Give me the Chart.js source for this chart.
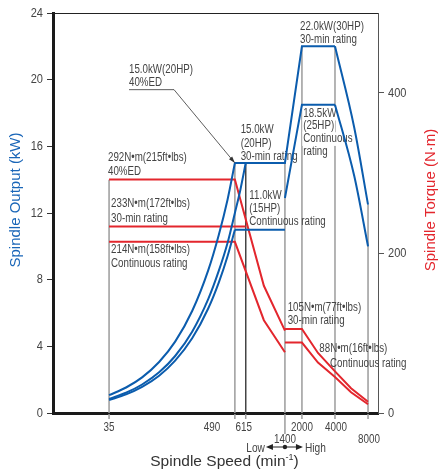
<!DOCTYPE html>
<html>
<head>
<meta charset="utf-8">
<script src="https://cdn.jsdelivr.net/npm/chart.js@4.4.1/dist/chart.umd.min.js"></script>
<style>
  html, body { margin: 0; padding: 0; background: #fff; }
</style>
</head>
<body>
<canvas id="grafica" width="440" height="475"></canvas>
<script>
// speed axis (min-1)
const speedTicks = [35, 490, 615, 1400, 2000, 4000, 8000];
const powerTicks = [0, 4, 8, 12, 16, 20, 24];
const torqueTicks = [0, 200, 400];

// spindle output (kW) - low gear, rising part
const riseSpeed = [35, 50, 70, 100, 140, 200, 280, 350, 420, 490];
const out40Rise = [1.07, 1.53, 2.14, 3.06, 4.28, 6.12, 8.56, 10.7, 12.8, 15.0];
const out30RiseSpeed = [35, 50, 70, 100, 140, 200, 280, 350, 420, 490, 550, 615];
const out30Rise = [0.85, 1.22, 1.71, 2.44, 3.42, 4.88, 6.83, 8.54, 10.2, 12.0, 13.4, 15.0];
const outContRise = [0.78, 1.12, 1.57, 2.24, 3.14, 4.48, 6.27, 7.84, 9.41, 11.0];
// spindle output (kW) - flat and high gear parts
const out30Speed = [490, 1400, 2000, 4000];
const out30 = [15.0, 15.0, 22.0, 22.0];
const outContSpeed = [490, 1400];
const outCont = [11.0, 11.0];
const outContHighSpeed = [1400, 2000, 4000];
const outContHigh = [12.9, 18.5, 18.5];
const fallSpeed = [4000, 6000, 8000];
const out30Fall = [22.0, 17.1, 12.5];
const outContFall = [18.5, 14.2, 10.0];

// spindle torque (N·m)
const trq40Speed = [35, 490, 900, 1400];
const trq40 = [292, 292, 159, 103];
const trq30LowSpeed = [35, 615];
const trq30Low = [233, 233];
const trqContLowSpeed = [35, 490, 900, 1400];
const trqContLow = [214, 214, 116, 76];
const trqHighSpeed = [1400, 2000, 2800, 4000, 5600, 8000];
const trq30High = [105, 105, 75, 52, 31, 14];
const trqContHigh = [88, 88, 63, 45, 26, 11];

// drop lines to the speed axis (top in kW)
const dropSpeeds = [35, 490, 615, 1400, 2000, 4000, 8000];
const dropTops = [14.0, 15.0, 15.0, 15.0, 22.0, 22.0, 12.5];

const AZUL = '#0b5cad';
const ROJO = '#e3262d';
const TEXTO = '#444';
const FUENTE = '"Liberation Sans", Arial, sans-serif';

// annotations: anchor [speed, kW], then line spacing in px
const notas = [
    { at: [53.2, 20.6], lh: 12.5, lines: ['15.0kW(20HP)', '40%ED'] },
    { at: [34.2, 15.3], lh: 14, lines: ['292N•m(215ft•lbs)', '40%ED'] },
    { at: [36.5, 12.55], lh: 15, lines: ['233N•m(172ft•lbs)', '30-min rating'] },
    { at: [36.5, 9.79], lh: 14, lines: ['214N•m(158ft•lbs)', 'Continuous rating'] },
    { at: [553, 16.98], lh: 13.5, lines: ['15.0kW', '(20HP)', '30-min rating'] },
    { at: [663, 13.02], lh: 13, lines: ['11.0kW', '(15HP)', 'Continuous rating'] },
    { at: [1919, 23.2], lh: 13, lines: ['22.0kW(30HP)', '30-min rating'] },
    { at: [2057, 17.99], lh: 12.7, lines: ['18.5kW', '(25HP)', 'Continuous', 'rating'], knockout: 3 },
    { at: [1483, 6.32], lh: 12.5, lines: ['105N•m(77ft•lbs)', '30-min rating'] },
    { at: [2878, 3.84], lh: 15, lines: ['88N•m(16ft•lbs)', 'Continuous rating'], indent: [0, 10.7] }
];

function pts(xs, ys) {
    return xs.map((v, i) => ({ x: v, y: ys[i] }));
}

function linea(data, color, eje, suave) {
    return {
        data, borderColor: color, borderWidth: 2, yAxisID: eje, order: 0,
        pointRadius: 0, fill: false, cubicInterpolationMode: suave ? 'monotone' : 'default'
    };
}

const datasets = [
    linea(pts(riseSpeed, out40Rise), AZUL, 'y', true),
    linea(pts(out30RiseSpeed, out30Rise), AZUL, 'y', true),
    linea(pts(riseSpeed, outContRise), AZUL, 'y', true),
    linea(pts(out30Speed, out30), AZUL, 'y'),
    linea(pts(outContSpeed, outCont), AZUL, 'y'),
    linea(pts(outContHighSpeed, outContHigh), AZUL, 'y'),
    linea(pts(fallSpeed, out30Fall), AZUL, 'y', true),
    linea(pts(fallSpeed, outContFall), AZUL, 'y', true),
    linea(pts(trq40Speed, trq40), ROJO, 'y2'),
    linea(pts(trq30LowSpeed, trq30Low), ROJO, 'y2'),
    linea(pts(trqContLowSpeed, trqContLow), ROJO, 'y2'),
    linea(pts(trqHighSpeed, trq30High), ROJO, 'y2'),
    linea(pts(trqHighSpeed, trqContHigh), ROJO, 'y2')
];

dropSpeeds.forEach((s, i) => {
    datasets.push({
        data: [{ x: s, y: dropTops[i] }, { x: s, y: 0 }],
        borderColor: s === 615 ? '#444' : '#9c9c9c',
        borderWidth: s === 615 ? 1 : 1.5,
        yAxisID: 'y', order: 1, pointRadius: 0, drop: true
    });
});

// condensed text: regular sans squeezed horizontally
function texto(ctx, t, x, y, size, k, align) {
    ctx.save();
    ctx.font = size + 'px ' + FUENTE;
    ctx.textBaseline = 'middle';
    const w = ctx.measureText(t).width * k;
    const x0 = align === 'center' ? x - w / 2 : align === 'right' ? x - w : x;
    ctx.translate(x0, y);
    ctx.scale(k, 1);
    ctx.textAlign = 'left';
    ctx.fillText(t, 0, 0);
    ctx.restore();
    return w;
}

function ancho(ctx, t, size, k) {
    ctx.save();
    ctx.font = size + 'px ' + FUENTE;
    const w = ctx.measureText(t).width * k;
    ctx.restore();
    return w;
}

function dibujarNotas(chart) {
    const { ctx } = chart;
    const x = chart.scales.x, y = chart.scales.y;
    ctx.save();
    notas.forEach(n => {
        const px = x.getPixelForValue(n.at[0]);
        const py = y.getPixelForValue(n.at[1]);
        n.lines.forEach((t, i) => {
            const lx = px + (n.indent ? n.indent[i] : 0);
            const ly = py + i * n.lh;
            if (n.knockout && i < n.knockout) {
                ctx.fillStyle = '#fff';
                ctx.fillRect(lx - 1, ly - n.lh / 2, ancho(ctx, t, 12.5, 0.78) + 2, n.lh + 1);
            }
            ctx.fillStyle = TEXTO;
            texto(ctx, t, lx, ly, 12.5, 0.78, 'left');
        });
    });

    // leader from the 40%ED label to the 490 min-1 corner
    const a = [x.getPixelForValue(53.2), y.getPixelForValue(19.4)];
    const b = [x.getPixelForValue(136.7), y.getPixelForValue(19.4)];
    const c = [x.getPixelForValue(490), y.getPixelForValue(15)];
    ctx.strokeStyle = '#333';
    ctx.lineWidth = 0.8;
    ctx.beginPath();
    ctx.moveTo(a[0], a[1]);
    ctx.lineTo(b[0], b[1]);
    ctx.lineTo(c[0], c[1]);
    ctx.stroke();
    const ang = Math.atan2(c[1] - b[1], c[0] - b[0]);
    ctx.fillStyle = '#333';
    ctx.beginPath();
    ctx.moveTo(c[0], c[1]);
    ctx.lineTo(c[0] - 7 * Math.cos(ang - 0.3), c[1] - 7 * Math.sin(ang - 0.3));
    ctx.lineTo(c[0] - 7 * Math.cos(ang + 0.3), c[1] - 7 * Math.sin(ang + 0.3));
    ctx.closePath();
    ctx.fill();
    ctx.restore();
}

function flecha(ctx, x0, y0, dir) {
    ctx.beginPath();
    ctx.moveTo(x0, y0);
    ctx.lineTo(x0 - dir * 7, y0 - 3);
    ctx.lineTo(x0 - dir * 7, y0 + 3);
    ctx.closePath();
    ctx.fill();
}

const anotar = {
    id: 'anotar',
    beforeDraw(chart) {
        chart.$notas = false;
    },
    beforeDatasetDraw(chart, args) {
        if (!chart.data.datasets[args.index].drop && !chart.$notas) {
            chart.$notas = true;
            dibujarNotas(chart);
        }
    },
    afterDraw(chart) {
        const { ctx, chartArea } = chart;
        const x = chart.scales.x, y = chart.scales.y, y2 = chart.scales.y2;
        ctx.save();

        // top frame line
        ctx.strokeStyle = '#222';
        ctx.lineWidth = 1;
        ctx.beginPath();
        ctx.moveTo(chartArea.left, chartArea.top + 0.5);
        ctx.lineTo(chartArea.right, chartArea.top + 0.5);
        ctx.stroke();

        // value labels of both vertical axes
        ctx.fillStyle = TEXTO;
        powerTicks.forEach(v => texto(ctx, String(v), chartArea.left - 10, y.getPixelForValue(v), 13, 0.85, 'right'));
        torqueTicks.forEach(v => texto(ctx, String(v), chartArea.right + 10, y2.getPixelForValue(v), 13, 0.85, 'left'));

        // speed ticks below the axis and their labels
        const fila = [0, 0, 0, 1, 0, 0, 1];
        const corr = [0, -23, -2, 0, 0, 1, 1];
        speedTicks.forEach((s, i) => {
            const px = x.getPixelForValue(s);
            ctx.strokeStyle = '#9c9c9c';
            ctx.lineWidth = 1.5;
            ctx.beginPath();
            ctx.moveTo(px, chartArea.bottom + 1);
            ctx.lineTo(px, chartArea.bottom + (s === 1400 ? 21 : 6));
            ctx.stroke();
            ctx.fillStyle = TEXTO;
            texto(ctx, String(s), px + corr[i], chartArea.bottom + 14 + fila[i] * 12, 13, 0.76, 'center');
        });

        // Low <-•-> High gear marker
        const pm = x.getPixelForValue(1400);
        const ym = chartArea.bottom + 34;
        ctx.strokeStyle = '#222';
        ctx.fillStyle = '#222';
        ctx.lineWidth = 1.2;
        ctx.beginPath();
        ctx.moveTo(pm - 17, ym);
        ctx.lineTo(pm + 16, ym);
        ctx.stroke();
        flecha(ctx, pm - 19, ym, -1);
        flecha(ctx, pm + 18, ym, 1);
        ctx.beginPath();
        ctx.arc(pm, ym, 2.2, 0, Math.PI * 2);
        ctx.fill();
        ctx.fillStyle = TEXTO;
        texto(ctx, 'Low', pm - 20, ym + 1, 13, 0.78, 'right');
        texto(ctx, 'High', pm + 20, ym + 1, 13, 0.78, 'left');

        // axis titles
        ctx.textBaseline = 'middle';
        ctx.font = '15.5px ' + FUENTE;
        const t1 = 'Spindle Speed (min';
        const w1 = ctx.measureText(t1).width;
        const w3 = ctx.measureText(')').width;
        ctx.font = '9px ' + FUENTE;
        const w2 = ctx.measureText('-1').width;
        const tx = 224.5 - (w1 + w2 + w3) / 2;
        const ty = chartArea.bottom + 49;
        ctx.fillStyle = '#333';
        ctx.textAlign = 'left';
        ctx.font = '15.5px ' + FUENTE;
        ctx.fillText(t1, tx, ty);
        ctx.fillText(')', tx + w1 + w2, ty);
        ctx.font = '9px ' + FUENTE;
        ctx.fillText('-1', tx + w1, ty - 4);

        ctx.font = '15px ' + FUENTE;
        ctx.textAlign = 'center';
        ctx.save();
        ctx.translate(16, 200);
        ctx.rotate(-Math.PI / 2);
        ctx.fillStyle = '#1a66b8';
        ctx.fillText('Spindle Output (kW)', 0, 0);
        ctx.restore();

        ctx.save();
        ctx.translate(431, 200);
        ctx.rotate(-Math.PI / 2);
        ctx.fillStyle = ROJO;
        ctx.fillText('Spindle Torque (N·m)', 0, 0);
        ctx.restore();

        ctx.restore();
    }
};

const ctx = document.querySelector('#grafica').getContext('2d');

new Chart(ctx, {
    type: 'line',
    data: { datasets },
    options: {
        responsive: false,
        animation: false,
        events: [],
        layout: { padding: { top: 13, left: 0, right: 0, bottom: 0 } },
        plugins: {
            legend: { display: false },
            tooltip: { enabled: false }
        },
        elements: { line: { tension: 0 } },
        scales: {
            x: {
                type: 'logarithmic',
                min: 10.8,
                max: 9860,
                ticks: { display: false },
                grid: { display: false },
                border: { display: true, color: '#1a1a1a', width: 3 },
                afterFit: s => { s.height = 62; }
            },
            y: {
                position: 'left',
                min: 0,
                max: 24,
                afterBuildTicks: s => { s.ticks = powerTicks.map(v => ({ value: v })); },
                ticks: { display: false },
                grid: { drawOnChartArea: false, drawTicks: true, tickLength: 6, color: '#333' },
                border: { display: true, color: '#1a1a1a', width: 3 },
                afterFit: s => { s.width = 53; }
            },
            y2: {
                position: 'right',
                min: 0,
                max: 500,
                afterBuildTicks: s => { s.ticks = torqueTicks.map(v => ({ value: v })); },
                ticks: { display: false },
                grid: { drawOnChartArea: false, drawTicks: true, tickLength: 6, color: '#555' },
                border: { display: true, color: '#555', width: 1 },
                afterFit: s => { s.width = 62; }
            }
        }
    },
    plugins: [anotar]
});
</script>
</body>
</html>
